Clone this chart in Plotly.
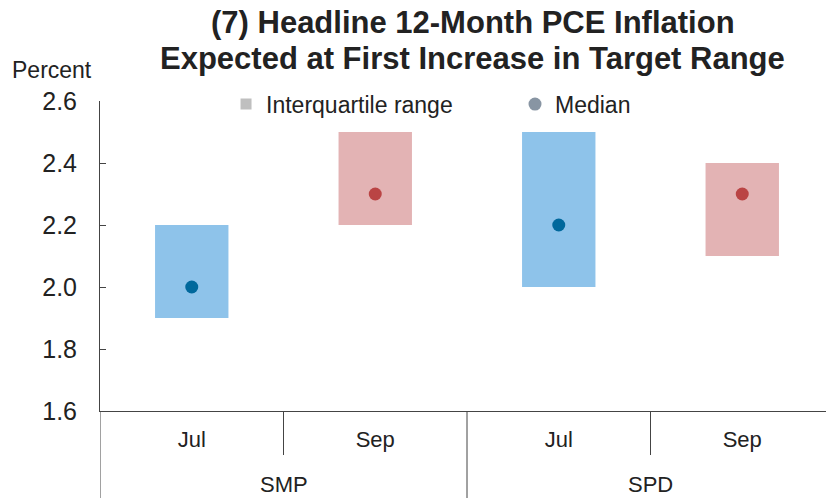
"""IQR boxes and medians of expected PCE inflation at liftoff, by survey."""
import plotly.graph_objects as go

SURVEYS = ["SMP", "SMP", "SPD", "SPD"]
MONTHS = ["Jul", "Sep", "Jul", "Sep"]
Q25 = [1.9, 2.2, 2.0, 2.1]
Q75 = [2.2, 2.5, 2.5, 2.4]
MEDIAN = [2.0, 2.3, 2.2, 2.3]
TITLE_LINES = ["(7) Headline 12-Month PCE Inflation",
               "Expected at First Increase in Target Range"]

BAR_COLORS = {"Jul": "#8EC3EA", "Sep": "#E3B3B4"}
DOT_COLORS = {"Jul": "#00689C", "Sep": "#BA4444"}
FONT = "Arial, Liberation Sans, sans-serif"
INK = "#222222"
AXIS = "#444444"

xs = list(range(len(MONTHS)))

fig = go.Figure()
fig.add_trace(go.Bar(
    x=xs,
    y=[hi - lo for lo, hi in zip(Q25, Q75)],
    base=Q25,
    width=0.4,
    marker=dict(color=[BAR_COLORS[m] for m in MONTHS], line_width=0),
    showlegend=False,
    hoverinfo="skip",
))
fig.add_trace(go.Scatter(
    x=xs,
    y=MEDIAN,
    mode="markers",
    marker=dict(size=13, color=[DOT_COLORS[m] for m in MONTHS]),
    showlegend=False,
))

# legend-only entries in neutral grey, as in the original
fig.add_trace(go.Scatter(
    x=[None], y=[None], mode="markers", name="Interquartile range",
    marker=dict(symbol="square", size=11, color="#BFBFBF"), legend="legend",
))
fig.add_trace(go.Scatter(
    x=[None], y=[None], mode="markers", name="Median",
    marker=dict(symbol="circle", size=13, color="#8895A3"), legend="legend2",
))

# group labels and dividers under the axis
groups = []
for i, s in enumerate(SURVEYS):
    if not groups or groups[-1][0] != s:
        groups.append([s, i, i])
    else:
        groups[-1][2] = i

for name, first, last in groups:
    fig.add_annotation(
        x=(first + last) / 2, y=0, xref="x", yref="paper",
        text=name, showarrow=False, yanchor="middle", yshift=-73,
        font=dict(size=22, color=INK, family=FONT),
    )
    fig.add_shape(type="line", xref="x", yref="paper",
                  x0=first - 0.5, x1=first - 0.5, y0=0, y1=-0.3,
                  line=dict(color=AXIS, width=1))
    for j in range(first, last):
        fig.add_shape(type="line", xref="x", yref="paper",
                      x0=j + 0.5, x1=j + 0.5, y0=0, y1=-0.142,
                      line=dict(color=AXIS, width=1))

# title as two lines so the leading matches the original
for line, shift in zip(TITLE_LINES, [79, 43]):
    fig.add_annotation(
        x=0.5075, y=1, xref="paper", yref="paper", xanchor="center",
        yanchor="middle", yshift=shift, showarrow=False,
        text=f"<b>{line}</b>", font=dict(size=31, color=INK, family=FONT),
    )
fig.add_annotation(
    x=0, y=1, xref="paper", yref="paper", xanchor="left", yanchor="middle",
    xshift=-90, yshift=31, text="Percent", showarrow=False,
    font=dict(size=23, color=INK, family=FONT),
)

# the page body adds an 8px offset, so margins are pulled in by 8px
fig.update_layout(
    width=834,
    height=498,
    margin=dict(l=92, r=8, t=93, b=95, autoexpand=False),
    plot_bgcolor="white",
    paper_bgcolor="white",
    font=dict(family=FONT, color=INK),
    legend=dict(
        orientation="h", x=0.1717, y=0.99, xanchor="left", yanchor="middle",
        font=dict(size=23, color=INK), itemwidth=30, bgcolor="rgba(0,0,0,0)",
    ),
    legend2=dict(
        orientation="h", x=0.5654, y=0.99, xanchor="left", yanchor="middle",
        font=dict(size=23, color=INK), itemwidth=30, bgcolor="rgba(0,0,0,0)",
    ),
    showlegend=True,
)
fig.update_xaxes(
    range=[-0.5, len(MONTHS) - 0.5],
    tickmode="array", tickvals=xs, ticktext=MONTHS,
    ticks="", showline=True, linecolor=AXIS, linewidth=1,
    showgrid=False, zeroline=False, automargin=False,
    tickfont=dict(size=22, color=INK), ticklabelstandoff=9,
)
fig.update_yaxes(
    range=[1.6, 2.6], dtick=0.2, tickformat=".1f",
    ticks="inside", ticklen=6, tickcolor=AXIS,
    showline=True, linecolor=AXIS, linewidth=1,
    showgrid=False, zeroline=False, automargin=False,
    tickfont=dict(size=25, color=INK), ticklabelstandoff=17,
)

fig.write_html("out.html")
